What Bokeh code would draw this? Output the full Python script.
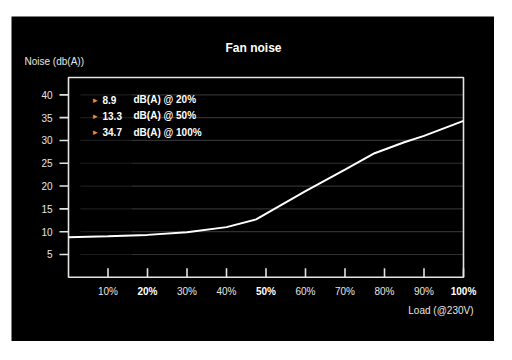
import math
from bokeh.plotting import figure
from bokeh.models import ColumnDataSource, LabelSet, Label, Range1d
from bokeh.core.properties import value
from bokeh.embed import file_html
from bokeh.resources import INLINE

# ---- data ----
load_pct = [0, 10, 20, 30, 40, 47.5, 60, 70, 77.5, 85, 90, 100]
noise_db = [8.8, 9.0, 9.3, 9.9, 11.0, 12.7, 18.9, 23.6, 27.2, 29.6, 31.0, 34.3]
x_ticks = [10, 20, 30, 40, 50, 60, 70, 80, 90, 100]
x_tick_labels = ["10%", "20%", "30%", "40%", "50%", "60%", "70%", "80%", "90%", "100%"]
x_bold_ticks = [20, 50, 100]
y_ticks = [5, 10, 15, 20, 25, 30, 35, 40]
y_tick_labels = ["5", "10", "15", "20", "25", "30", "35", "40"]
note_values = ["8.9", "13.3", "34.7"]
note_loads = ["20%", "50%", "100%"]

# axis limits of the plotting box
X_MIN, X_MAX = 0, 100
Y_MIN, Y_MAX = 0, 43.8

# ---- layout (pixels) ----
W, H = 483, 325                # black panel
FIG_LEFT_PAGE, FIG_TOP_PAGE = 12, 17
BOX_L, BOX_R, BOX_T, BOX_B = 69, 464, 78, 277.8   # page pixels of the plotting box
FONT = "Liberation Sans"


def sx(px):
    return px - FIG_LEFT_PAGE


def sy(py):
    return (FIG_TOP_PAGE + H) - py


# map the whole canvas to data so that everything is drawn inside the frame
xs = (X_MAX - X_MIN) / (BOX_R - BOX_L)
ys = (Y_MAX - Y_MIN) / (BOX_B - BOX_T)
x_range = Range1d(X_MIN - (BOX_L - FIG_LEFT_PAGE) * xs, X_MAX + (FIG_LEFT_PAGE + W - BOX_R) * xs)
y_range = Range1d(Y_MIN - (FIG_TOP_PAGE + H - BOX_B) * ys, Y_MAX + (BOX_T - FIG_TOP_PAGE) * ys)

p = figure(width=W, height=H, output_backend="svg", toolbar_location=None,
           x_range=x_range, y_range=y_range,
           x_axis_location=None, y_axis_location=None,
           min_border=0, min_border_left=0, min_border_right=0, min_border_top=0, min_border_bottom=0,
           background_fill_color="black", border_fill_color="black",
           outline_line_color=None)
p.margin = (16, 0, 0, 11)
p.grid.visible = False

AX = "#e4e4e4"

# grid lines (fading towards the left)
n = len(y_ticks)
p.segment(x0=[X_MIN + 3] * n, x1=[X_MIN + 16] * n, y0=y_ticks, y1=y_ticks,
          line_color="#1c1c1c", line_width=1.2)
p.segment(x0=[X_MIN + 16] * n, x1=[X_MAX] * n, y0=y_ticks, y1=y_ticks,
          line_color="#313131", line_width=1.2)

# plotting box
p.quad(left=[X_MIN], right=[X_MAX], bottom=[Y_MIN], top=[Y_MAX], fill_color=None,
       line_color=AX, line_width=1.6)

# ticks
p.ray(x=[X_MIN] * n, y=y_ticks, length=9, length_units="screen",
      angle=math.pi, line_color=AX, line_width=1.6)
p.ray(x=x_ticks, y=[Y_MIN] * len(x_ticks), length=9, length_units="screen",
      angle=math.pi / 2, line_color=AX, line_width=1.6)

# curve
p.line(load_pct, noise_db, line_color="white", line_width=2)

# y tick labels
ysrc = ColumnDataSource(dict(y=y_ticks, t=y_tick_labels))
p.add_layout(LabelSet(x=sx(53), y="y", text="t", source=ysrc, x_units="screen", y_units="data",
                      text_align="right", text_baseline="middle", text_color="#e6e6e6",
                      text_font=value(FONT), text_font_size="10px"))

# x tick labels
norm = [(t, l) for t, l in zip(x_ticks, x_tick_labels) if t not in x_bold_ticks]
bold = [(t, l) for t, l in zip(x_ticks, x_tick_labels) if t in x_bold_ticks]
src_n = ColumnDataSource(dict(x=[a for a, _ in norm], t=[b for _, b in norm]))
src_b = ColumnDataSource(dict(x=[a for a, _ in bold], t=[b for _, b in bold]))
p.add_layout(LabelSet(x="x", y=sy(292), text="t", source=src_n, x_units="data", y_units="screen",
                      text_align="center", text_baseline="middle", text_color="#e6e6e6",
                      text_font=value(FONT), text_font_size="10px"))
p.add_layout(LabelSet(x="x", y=sy(292), text="t", source=src_b, x_units="data", y_units="screen",
                      text_align="center", text_baseline="middle", text_color="white",
                      text_font=value(FONT), text_font_size="10px", text_font_style="bold"))

# title and axis titles
p.add_layout(Label(x=sx(254), y=sy(48), x_units="screen", y_units="screen", text="Fan noise",
                   text_align="center", text_baseline="middle", text_color="white",
                   text_font=FONT, text_font_size="12px", text_font_style="bold"))
p.add_layout(Label(x=sx(25), y=sy(62), x_units="screen", y_units="screen", text="Noise (db(A))",
                   text_align="left", text_baseline="middle", text_color="#e6e6e6",
                   text_font=FONT, text_font_size="10px"))
p.add_layout(Label(x=sx(474), y=sy(311), x_units="screen", y_units="screen", text="Load (@230V)",
                   text_align="right", text_baseline="middle", text_color="#e6e6e6",
                   text_font=FONT, text_font_size="10px"))

# notes
rows = [100, 116, 132.5]
note_src = ColumnDataSource(dict(
    y=[sy(r) for r in rows],
    tri=["\u25B8"] * len(rows),
    v=note_values,
    d=["dB(A) @ " + l for l in note_loads],
))
p.add_layout(LabelSet(x=sx(93.5), y="y", text="tri", source=note_src, x_units="screen", y_units="screen",
                      text_align="left", text_baseline="middle", text_color="#e0903a",
                      text_font=value("DejaVu Sans"), text_font_size="9px"))
p.add_layout(LabelSet(x=sx(103), y="y", text="v", source=note_src, x_units="screen", y_units="screen",
                      text_align="left", text_baseline="middle", text_color="white",
                      text_font=value(FONT), text_font_size="10px", text_font_style="bold"))
p.add_layout(LabelSet(x=sx(134), y="y", text="d", source=note_src, x_units="screen", y_units="screen",
                      text_align="left", text_baseline="middle", text_color="white",
                      text_font=value(FONT), text_font_size="10px", text_font_style="bold"))

open("out.html", "w").write(file_html(p, INLINE))
